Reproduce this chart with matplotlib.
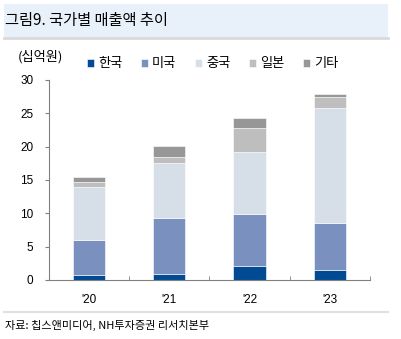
import numpy as np
import matplotlib.pyplot as plt
from matplotlib.patches import Rectangle
from matplotlib.lines import Line2D

plt.rcParams['font.family'] = ['Liberation Sans', 'Noto Sans CJK KR']

years = ["'20", "'21", "'22", "'23"]
korea = [0.7, 0.95, 2.05, 1.55]
usa = [5.3, 8.4, 7.9, 7.05]
china = [7.9, 8.15, 9.25, 17.15]
japan = [0.8, 1.0, 3.6, 1.75]
other = [0.7, 1.6, 1.45, 0.35]

series = [
    ('한국', korea, '#004B93'),
    ('미국', usa, '#7A90BE'),
    ('중국', china, '#D6DEE7'),
    ('일본', japan, '#BEBEBE'),
    ('기타', other, '#979797'),
]

fig = plt.figure(figsize=(4.01, 3.39), dpi=100)
W, H = 401, 339

# header band and footer rule
fig.patches.append(Rectangle((4 / W, 1 - 37 / H), 384 / W, 33 / H,
                             transform=fig.transFigure, facecolor='#E8F0F9',
                             edgecolor='none', zorder=0))
fig.lines.append(Line2D([4 / W, 388 / W], [1 - 38 / H, 1 - 38 / H],
                        transform=fig.transFigure, color='#D9D9D9', lw=2))
fig.lines.append(Line2D([4 / W, 388 / W], [1 - 312 / H, 1 - 312 / H],
                        transform=fig.transFigure, color='#E0E0E0', lw=1.5))
fig.text(5 / W, 1 - 21 / H, '그림9. 국가별 매출액 추이', fontsize=11,
         va='center', ha='left', family=['Noto Sans CJK KR'])
fig.text(5 / W, 1 - 325 / H, '자료: 칩스앤미디어, NH투자증권 리서치본부', fontsize=8,
         va='center', ha='left', family=['Noto Sans CJK KR'])
fig.text(18 / W, 1 - 57 / H, '(십억원)', fontsize=9.5, va='center', ha='left',
         family=['Noto Sans CJK KR'])

ax = fig.add_axes([48.7 / W, 1 - 280 / H, (370 - 48.7) / W, 200 / H])
x = np.arange(len(years))
bottom = np.zeros(len(years))
for name, vals, color in series:
    ax.bar(x, vals, width=0.4, bottom=bottom, color=color, label=name,
           edgecolor='white', linewidth=0.4)
    bottom += np.array(vals)

ax.set_xlim(-0.5, 3.5)
ax.set_ylim(0, 30)
ax.set_yticks(range(0, 31, 5))
ax.set_xticks(x)
ax.set_xticklabels(years)
ax.set_xticks(np.arange(0.5, 4, 1), minor=True)
ax.tick_params(axis='x', which='major', length=0, pad=10, labelsize=8.5)
ax.tick_params(axis='x', which='minor', direction='in', length=3,
               color='#808080')
ax.tick_params(axis='y', direction='out', length=3, color='#808080',
               labelsize=8.5, pad=8)
for side in ('top', 'right'):
    ax.spines[side].set_visible(False)
for side in ('left', 'bottom'):
    ax.spines[side].set_color('#808080')

fig.legend(loc='center left', bbox_to_anchor=(87 / W, 1 - 64 / H), ncol=5,
           frameon=False, handlelength=0.55, handleheight=0.55,
           handletextpad=0.3, columnspacing=1.4, borderaxespad=0,
           borderpad=0, prop={'size': 9.5, 'family': 'Noto Sans CJK KR'})

fig.savefig('out.png', dpi=100)
